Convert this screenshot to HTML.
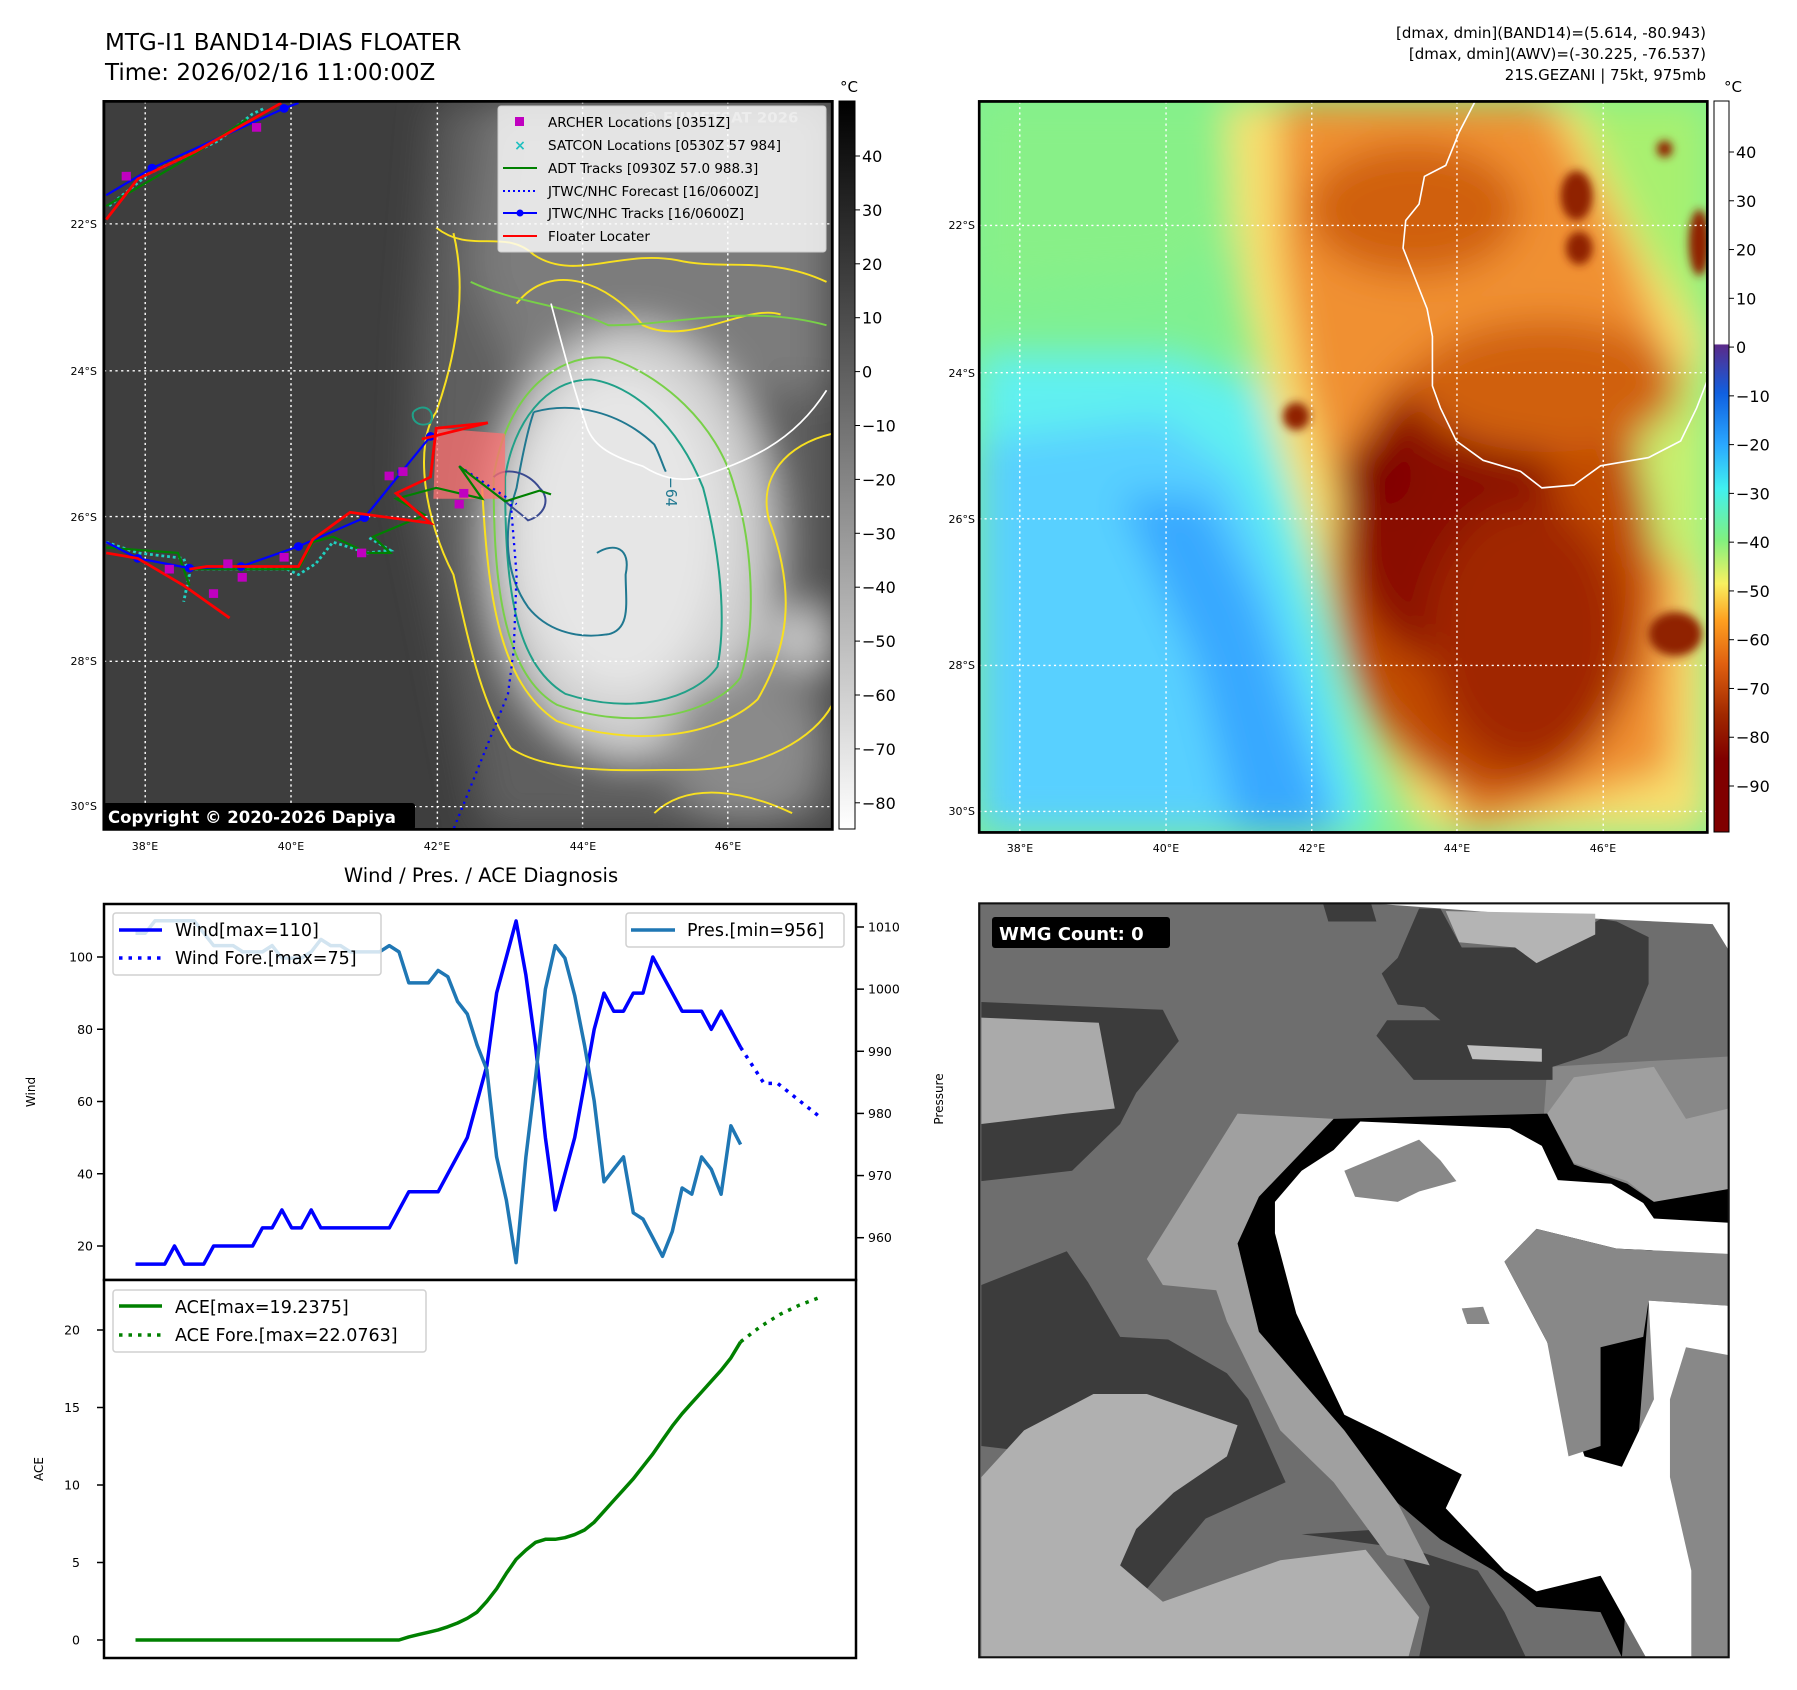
<!DOCTYPE html>
<html><head><meta charset="utf-8"><style>
html,body{margin:0;padding:0;background:#fff;}
svg{display:block;font-family:"DejaVu Sans","Liberation Sans",sans-serif;}
</style></head><body>
<svg id="root" width="1797" height="1690" viewBox="0 0 1797 1690" xmlns="http://www.w3.org/2000/svg">
<defs>
<filter id="b20" x="-20%" y="-20%" width="140%" height="140%"><feGaussianBlur stdDeviation="20"/></filter>
<filter id="b8" x="-20%" y="-20%" width="140%" height="140%"><feGaussianBlur stdDeviation="8"/></filter>
<filter id="b35" x="-30%" y="-30%" width="160%" height="160%"><feGaussianBlur stdDeviation="35"/></filter>
<linearGradient id="cb1" x1="0" y1="0" x2="0" y2="1"><stop offset="0" stop-color="#000"/><stop offset="1" stop-color="#fff"/></linearGradient>
<linearGradient id="cb2" x1="0" y1="0" x2="0" y2="1">
<stop offset="0" stop-color="#fff"/><stop offset="0.332" stop-color="#fff"/><stop offset="0.334" stop-color="#5a2a8a"/>
<stop offset="0.40" stop-color="#1060e0"/><stop offset="0.47" stop-color="#2aa8ff"/><stop offset="0.53" stop-color="#40f0f0"/>
<stop offset="0.60" stop-color="#80f080"/><stop offset="0.66" stop-color="#f8f060"/><stop offset="0.71" stop-color="#ffa020"/>
<stop offset="0.77" stop-color="#e06010"/><stop offset="0.84" stop-color="#a02800"/><stop offset="0.90" stop-color="#800000"/><stop offset="1" stop-color="#800000"/></linearGradient>
<clipPath id="c1"><rect x="181" y="187" width="1269" height="1343"/></clipPath>
<clipPath id="c2"><rect x="36" y="184" width="1364" height="1326"/></clipPath>
<clipPath id="c4"><rect x="36" y="45" width="1404" height="1452"/></clipPath>
</defs>

<text x="105" y="50" font-size="23">MTG-I1 BAND14-DIAS FLOATER</text>
<text x="105" y="80" font-size="23">Time: 2026/02/16 11:00:00Z</text>
<g font-size="15" text-anchor="end">
<text x="1706" y="38">[dmax, dmin](BAND14)=(5.614, -80.943)</text>
<text x="1706" y="59">[dmax, dmin](AWV)=(-30.225, -76.537)</text>
<text x="1706" y="80">21S.GEZANI | 75kt, 975mb</text>
</g>

<svg x="0" y="0" width="900" height="850" viewBox="0 0 1568 1568" preserveAspectRatio="none">
<g clip-path="url(#c1)">
<rect x="181" y="187" width="1269" height="1343" fill="#3e3e3e"/>
<g filter="url(#b35)">
<path d="M760,187 L1450,187 L1450,1530 L840,1530 L780,1200 L720,900 L730,600 Z" fill="#5e5e5e"/>
<path d="M860,187 L1450,187 L1450,720 L920,740 L820,500 Z" fill="#7c7c7c"/>
<ellipse cx="1100" cy="1000" rx="250" ry="400" fill="#cfcfcf"/>
<ellipse cx="1080" cy="980" rx="180" ry="300" fill="#e6e6e6"/>
<ellipse cx="1300" cy="1380" rx="140" ry="140" fill="#8a8a8a"/>
<ellipse cx="1400" cy="1180" rx="60" ry="60" fill="#c8c8c8"/>
</g>
<g fill="none" stroke-width="3.5" stroke-linejoin="round">
<path d="M790,430 C820,560 780,700 760,760 C720,820 740,960 790,1060 C820,1200 840,1300 890,1380 C960,1430 1100,1420 1200,1420 C1330,1420 1420,1360 1450,1300" stroke="#f8e020"/>
<path d="M840,900 C850,1100 870,1260 970,1330 C1100,1380 1250,1360 1320,1290 C1370,1200 1390,1100 1340,960 C1320,880 1370,820 1450,800" stroke="#f8e020"/>
<path d="M900,560 C960,480 1060,520 1120,600 C1200,640 1300,560 1360,580" stroke="#f8e020"/>
<path d="M760,420 C820,470 880,420 930,470 C1000,520 1080,460 1180,480 C1260,500 1340,470 1440,520" stroke="#f8e020"/>
<path d="M1140,1500 C1200,1440 1300,1460 1380,1500" stroke="#f8e020"/>
<path d="M860,880 C860,1050 870,1240 970,1300 C1100,1350 1240,1320 1290,1250 C1320,1150 1310,1000 1280,900 C1250,780 1150,690 1060,660 C960,650 880,740 860,880 Z" stroke="#78d048"/>
<path d="M820,520 C900,560 980,560 1060,600 C1180,600 1300,560 1440,600" stroke="#78d048"/>
<path d="M880,880 C880,1060 890,1220 985,1280 C1100,1320 1210,1290 1250,1230 C1270,1120 1245,980 1225,900 C1180,780 1100,710 1030,700 C950,700 895,780 880,880 Z" stroke="#20a088"/>
<path d="M930,760 C1000,740 1080,760 1140,820 C1150,840 1155,860 1160,870" stroke="#207890"/>
<path d="M1040,1020 C1070,1000 1100,1010 1090,1060 C1090,1110 1100,1160 1060,1170 C1000,1180 950,1160 920,1120 C880,1060 875,980 900,900 C910,840 920,790 930,760" stroke="#207890"/>
<path d="M860,880 C880,860 920,870 940,900 C960,920 950,950 920,960 C900,940 880,930 870,910" stroke="#3a4a90"/>
<path d="M720,760 C740,740 760,760 750,780 C730,790 715,775 720,760" stroke="#20a088"/>
</g>
<path d="M960,560 C980,640 1000,720 1020,780 C1030,820 1060,840 1120,860 C1150,880 1180,890 1220,880 C1300,850 1380,820 1440,720" fill="none" stroke="#fff" stroke-width="3"/>
<text x="1160" y="880" font-size="26" fill="#207890" transform="rotate(90 1160 880)">−64</text>
<g stroke="#fff" stroke-width="2.5" stroke-dasharray="4,6">
<line x1="253" y1="187" x2="253" y2="1530"/><line x1="507" y1="187" x2="507" y2="1530"/><line x1="762" y1="187" x2="762" y2="1530"/><line x1="1015" y1="187" x2="1015" y2="1530"/><line x1="1268" y1="187" x2="1268" y2="1530"/>
<line x1="181" y1="413" x2="1450" y2="413"/><line x1="181" y1="684" x2="1450" y2="684"/><line x1="181" y1="953" x2="1450" y2="953"/><line x1="181" y1="1220" x2="1450" y2="1220"/><line x1="181" y1="1488" x2="1450" y2="1488"/>
</g>
<polygon points="760,790 880,800 880,920 755,920" fill="#ff7070" opacity="0.75"/>
<g fill="none" stroke="#20d0c0" stroke-width="5" stroke-dasharray="5,5">
<polyline points="185,1000 240,1020 320,1030 330,1060 320,1110"/>
<polyline points="330,1050 500,1050 520,1060 550,1040 580,1000 640,1020 680,1015 640,990"/>
<polyline points="190,380 260,320 380,260 440,210 460,200"/>
</g>
<polyline points="890,930 900,1060 895,1200 885,1280 790,1530" fill="none" stroke="#0000ff" stroke-width="4" stroke-dasharray="4,8"/>
<polyline points="800,860 900,930" fill="none" stroke="#0000ff" stroke-width="4" stroke-dasharray="4,8"/>
<g fill="none" stroke="#008000" stroke-width="4">
<polyline points="185,1010 310,1020 330,1080"/>
<polyline points="330,1050 520,1050 545,1000 580,990 600,1000 640,1020 680,1020 650,990 740,950 690,920 760,900 840,920 800,860 880,925 940,905 960,912"/>
<polyline points="185,380 250,340 330,290 430,220"/>
</g>
<g fill="none" stroke="#0000ff" stroke-width="4">
<polyline points="185,1000 240,1030 330,1048 420,1045 520,1008 635,955 700,870 750,805"/>
<polyline points="185,360 265,310 495,200 520,190"/>
</g>
<g fill="#0000ff">
<circle cx="240" cy="1030" r="8"/><circle cx="330" cy="1048" r="8"/><circle cx="420" cy="1045" r="8"/><circle cx="520" cy="1008" r="8"/><circle cx="635" cy="955" r="8"/><circle cx="700" cy="870" r="8"/><circle cx="750" cy="805" r="8"/><circle cx="265" cy="310" r="8"/><circle cx="495" cy="200" r="8"/>
</g>
<g fill="none" stroke="#ff0000" stroke-width="5">
<polyline points="185,1020 240,1030 320,1080 400,1140"/>
<polyline points="330,1050 360,1045 520,1045 545,995 610,945 750,965 690,910 750,880 760,790 850,780 735,810"/>
<polyline points="185,405 240,330 340,280 490,190"/>
</g>
<g fill="#c000c0">
<rect x="212" y="317" width="16" height="16"/><rect x="439" y="227" width="16" height="16"/><rect x="287" y="1042" width="16" height="16"/><rect x="389" y="1032" width="16" height="16"/><rect x="414" y="1057" width="16" height="16"/><rect x="364" y="1087" width="16" height="16"/><rect x="487" y="1020" width="16" height="16"/><rect x="622" y="1012" width="16" height="16"/><rect x="670" y="870" width="16" height="16"/><rect x="694" y="862" width="16" height="16"/><rect x="792" y="922" width="16" height="16"/><rect x="800" y="902" width="16" height="16"/>
</g>
<text x="1120" y="226" font-size="26" font-weight="bold" fill="#c8c8c8" opacity="0.6">© EUMETSAT 2026</text>
</g>
<rect x="181" y="187" width="1269" height="1343" fill="none" stroke="#000" stroke-width="5"/>
</svg>
<g>
<rect x="498" y="106" width="328" height="146" rx="3" fill="#fff" fill-opacity="0.8" stroke="#ccc"/>
<g font-size="13.5">
<rect x="515" y="117" width="9" height="9" fill="#c000c0"/><text x="548" y="127">ARCHER Locations [0351Z]</text>
<text x="520" y="150" text-anchor="middle" fill="#20c0c0" font-weight="bold" font-size="14">×</text><text x="548" y="150">SATCON Locations [0530Z 57 984]</text>
<line x1="503" y1="168" x2="537" y2="168" stroke="#008000" stroke-width="2"/><text x="548" y="173">ADT Tracks [0930Z 57.0 988.3]</text>
<line x1="503" y1="191" x2="537" y2="191" stroke="#0000ff" stroke-width="2" stroke-dasharray="2,3"/><text x="548" y="196">JTWC/NHC Forecast [16/0600Z]</text>
<line x1="503" y1="213" x2="537" y2="213" stroke="#0000ff" stroke-width="2"/><circle cx="520" cy="213" r="3.5" fill="#0000ff"/><text x="548" y="218">JTWC/NHC Tracks [16/0600Z]</text>
<line x1="503" y1="236" x2="537" y2="236" stroke="#ff0000" stroke-width="2"/><text x="548" y="241">Floater Locater</text>
</g></g>
<g>
<rect x="103" y="803" width="312" height="27" rx="3" fill="#000"/>
<text x="108" y="823" font-size="16.5" font-weight="bold" fill="#fff">Copyright © 2020-2026 Dapiya</text>
</g>
<g font-size="11" text-anchor="end">
<text x="97" y="228">22°S</text><text x="97" y="375">24°S</text><text x="97" y="521">26°S</text><text x="97" y="665">28°S</text><text x="97" y="810">30°S</text>
</g>
<g font-size="11" text-anchor="middle">
<text x="145" y="850">38°E</text><text x="291" y="850">40°E</text><text x="437" y="850">42°E</text><text x="583" y="850">44°E</text><text x="728" y="850">46°E</text>
</g>
<rect x="839" y="101" width="16" height="728" fill="url(#cb1)" stroke="#000" stroke-width="1"/>
<text x="849" y="92" font-size="15" text-anchor="middle">°C</text>
<g id="cb1ticks" font-size="16"></g>

<svg x="960" y="0" width="837" height="860" viewBox="0 0 1568 1560" preserveAspectRatio="none">
<g clip-path="url(#c2)">
<rect x="36" y="184" width="1364" height="1326" fill="#80f090"/>
<g filter="url(#b35)">
<path d="M36,640 L400,640 L560,700 L620,900 L700,1200 L780,1510 L36,1510 Z" fill="#60f0f0"/>
<path d="M36,800 L380,760 L520,860 L600,1050 L680,1300 L730,1510 L36,1510 Z" fill="#58d0ff"/>
<path d="M300,900 L460,900 L560,1100 L640,1350 L700,1510 L520,1510 L440,1200 Z" fill="#38a8ff"/>
<path d="M36,184 L500,184 L520,420 L400,500 L36,520 Z" fill="#88f088"/>
<path d="M500,184 L1150,184 L1300,400 L1400,560 L1400,1510 L860,1510 L740,1250 L660,1000 L580,760 L520,500 Z" fill="#f8e070"/>
<path d="M600,184 L1100,184 L1250,450 L1350,700 L1330,1400 L950,1510 L800,1200 L720,950 L640,700 L600,450 Z" fill="#f09030"/>
<path d="M1150,184 L1400,184 L1400,620 L1280,450 Z" fill="#a8f070"/>
<path d="M1250,700 L1400,650 L1400,1050 L1300,1000 Z" fill="#c8f070"/>
<ellipse cx="1000" cy="1030" rx="300" ry="420" fill="#c04800"/>
<ellipse cx="920" cy="950" rx="200" ry="250" fill="#8a0a00"/>
<ellipse cx="780" cy="860" rx="70" ry="60" fill="#800000"/>
<ellipse cx="1060" cy="1150" rx="180" ry="240" fill="#a02800"/>
<ellipse cx="1100" cy="700" rx="250" ry="120" fill="#d06010"/>
<ellipse cx="850" cy="380" rx="200" ry="120" fill="#d06010"/>
</g>
<g filter="url(#b8)" fill="#902000">
<ellipse cx="1155" cy="355" rx="30" ry="45"/><ellipse cx="1160" cy="450" rx="25" ry="30"/><ellipse cx="630" cy="755" rx="25" ry="25"/><ellipse cx="1340" cy="1150" rx="50" ry="40"/><ellipse cx="1320" cy="270" rx="15" ry="15"/><ellipse cx="1385" cy="440" rx="20" ry="60"/>
</g>
<path d="M965,184 L935,240 L910,300 L870,320 L860,370 L835,400 L830,450 L875,560 L885,610 L885,700 L900,740 L930,800 L980,835 L1050,855 L1090,885 L1150,880 L1200,845 L1290,830 L1350,800 L1380,740 L1400,690" fill="none" stroke="#fff" stroke-width="3"/>
<g stroke="#fff" stroke-width="2.5" stroke-dasharray="4,6">
<line x1="112" y1="184" x2="112" y2="1510"/><line x1="386" y1="184" x2="386" y2="1510"/><line x1="659" y1="184" x2="659" y2="1510"/><line x1="931" y1="184" x2="931" y2="1510"/><line x1="1205" y1="184" x2="1205" y2="1510"/>
<line x1="36" y1="409" x2="1400" y2="409"/><line x1="36" y1="676" x2="1400" y2="676"/><line x1="36" y1="941" x2="1400" y2="941"/><line x1="36" y1="1207" x2="1400" y2="1207"/><line x1="36" y1="1472" x2="1400" y2="1472"/>
</g>
</g>
<rect x="36" y="184" width="1364" height="1326" fill="none" stroke="#000" stroke-width="5"/>
</svg>
<g font-size="11" text-anchor="end">
<text x="975" y="229">22°S</text><text x="975" y="377">24°S</text><text x="975" y="523">26°S</text><text x="975" y="669">28°S</text><text x="975" y="815">30°S</text>
</g>
<g font-size="11" text-anchor="middle">
<text x="1020" y="852">38°E</text><text x="1166" y="852">40°E</text><text x="1312" y="852">42°E</text><text x="1457" y="852">44°E</text><text x="1603" y="852">46°E</text>
</g>
<rect x="1714" y="101" width="15" height="731" fill="url(#cb2)" stroke="#000" stroke-width="1"/>
<text x="1733" y="92" font-size="15" text-anchor="middle">°C</text>
<g id="cb2ticks" font-size="16"></g>

<svg x="960" y="880" width="837" height="810" viewBox="0 0 1568 1560" preserveAspectRatio="none">
<g clip-path="url(#c4)">
<rect x="36" y="45" width="1404" height="1452" fill="#6e6e6e"/>
<polygon points="770,45 1440,45 1440,135 1410,85 1100,70" fill="#fff"/>
<polygon points="1100,360 1440,340 1440,1497 1300,1497 1100,1000 1030,740 1080,660" fill="#888"/>
<polygon points="1150,380 1300,360 1360,460 1440,440 1440,600 1300,620 1250,580 1150,545 1100,450" fill="#a0a0a0"/>
<polygon points="680,45 770,45 780,80 690,80" fill="#3c3c3c"/>
<polygon points="820,150 860,55 900,55 940,130 1110,130 1200,75 1230,80 1290,110 1290,200 1250,300 1200,330 1110,360 1110,385 850,385 780,300 800,270 900,270 870,245 820,240 790,180" fill="#3c3c3c"/>
<polygon points="910,60 1190,65 1190,105 1080,160 1040,130 935,120" fill="#b4b4b4"/>
<polygon points="950,318 1090,325 1090,350 960,345" fill="#c0c0c0"/>
<polygon points="40,235 380,250 410,310 330,410 300,470 210,560 40,580" fill="#3c3c3c"/>
<polygon points="40,265 260,275 290,440 200,450 40,470" fill="#aaaaaa"/>
<polygon points="40,780 200,715 240,775 300,880 390,885 500,950 540,1000 610,1160 460,1230 330,1390 270,1300 120,1100 40,1090" fill="#3c3c3c"/>
<polygon points="40,1150 120,1060 250,990 350,990 520,1050 500,1110 400,1180 330,1250 300,1320 380,1390 600,1310 760,1290 860,1420 840,1497 40,1497" fill="#b0b0b0"/>
<polygon points="640,1260 800,1250 880,1400 860,1497 1060,1497 1020,1410 970,1330 850,1290" fill="#3c3c3c"/>
<polygon points="350,730 520,450 700,460 560,610 520,700 560,870 720,1060 820,1200 880,1320 800,1300 700,1160 600,1060 500,850 480,790 380,780" fill="#a0a0a0"/>
<polygon points="560,610 700,460 1100,450 1150,548 1250,585 1300,620 1440,595 1440,690 1300,680 1240,1497 1200,1410 1080,1400 1000,1330 900,1270 820,1200 720,1060 560,870 520,700" fill="#000"/>
<polygon points="590,620 640,560 700,520 750,465 1030,478 1090,512 1120,578 1220,585 1280,622 1300,652 1440,660 1440,720 1230,710 1080,672 1020,735 1100,890 1170,1110 1240,1130 1300,1000 1290,810 1440,820 1440,915 1360,900 1330,1000 1330,1150 1370,1330 1370,1497 1285,1497 1200,1340 1080,1370 1020,1330 910,1210 940,1145 790,1065 720,1030 630,835 590,680" fill="#fff"/>
<polygon points="720,560 860,500 900,540 930,580 860,600 820,620 740,610" fill="#888"/>
<polygon points="1020,735 1080,672 1230,710 1430,720 1440,820 1290,810 1280,880 1200,900 1200,1090 1140,1110 1100,890" fill="#888"/>
<polygon points="940,825 980,822 992,855 950,855" fill="#888"/>
</g>
<rect x="36" y="45" width="1404" height="1452" fill="none" stroke="#111" stroke-width="4"/>
</svg>
<g>
<rect x="992" y="917" width="178" height="31" rx="3" fill="#000"/>
<text x="999" y="940" font-size="18" font-weight="bold" fill="#fff">WMG Count: 0</text>
</g>

<text x="481" y="882" font-size="19.5" text-anchor="middle">Wind / Pres. / ACE Diagnosis</text>
<g id="charts"></g>
</svg>

<script>
var windVals = [15,15,15,15,20,15,15,15,20,20,20,20,20,25,25,30,25,25,30,25,25,25,25,25,25,25,25,30,35,35,35,35,40,45,50,60,70,90,100,110,95,75,50,30,40,50,65,80,90,85,85,90,90,100,95,90,85,85,85,80,85,80,75];
var presVals = [1009,1009,1011,1011,1011,1011,1011,1009,1007,1007,1007,1006,1006,1006,1007,1005,1005,1005,1006,1008,1007,1007,1006,1006,1006,1006,1007,1006,1001,1001,1001,1003,1002,998,996,991,987,973,966,956,973,986,1000,1007,1005,999,991,982,969,971,973,964,963,960,957,961,968,967,973,971,967,978,975];
var aceVals = [0,0,0,0,0,0,0,0,0,0,0,0,0,0,0,0,0,0,0,0,0,0,0,0,0,0,0,0,0.2,0.35,0.5,0.65,0.85,1.1,1.4,1.8,2.5,3.3,4.3,5.2,5.8,6.3,6.5,6.5,6.6,6.8,7.1,7.6,8.3,9.0,9.7,10.4,11.2,12.0,12.9,13.8,14.6,15.3,16.0,16.7,17.4,18.2,19.24];
var windForeIdx = [62,64.4,65.8,70];
var windForeVals = [75,65,65,56];
var aceForeIdx = [62,64,66,68,70];
var aceForeVals = [19.24,20.2,21.0,21.6,22.08];
var windTicks = [20,40,60,80,100];
var presTicks = [960,970,980,990,1000,1010];
var aceTicks = [0,5,10,15,20];
var cb1Ticks = [40,30,20,10,0,-10,-20,-30,-40,-50,-60,-70,-80];
var cb2Ticks = [40,30,20,10,0,-10,-20,-30,-40,-50,-60,-70,-80,-90];

var NS = "http://www.w3.org/2000/svg";
function mk(tag, attrs, parent){ var e=document.createElementNS(NS,tag); for(var k in attrs) e.setAttribute(k,attrs[k]); parent.appendChild(e); return e; }

function xS(i){ return 135.5 + 9.76*i; }
function yW(v){ return 1246 - (v-20)*3.6125; }
function yP(p){ return 1237.7 - (p-960)*6.214; }
function yA(a){ return 1640 - a*15.5; }
function yCb1(v){ return 156 + (40-v)*5.39; }
function yCb2(v){ return 152 + (40-v)*4.877; }

var g1 = document.getElementById('cb1ticks');
cb1Ticks.forEach(function(v){
  var y=yCb1(v);
  var t=mk('line',{x1:855,y1:y,x2:860,y2:y,stroke:'#000'},g1);
  
  
  var l=mk('text',{x:862,y:y+6},g1); l.textContent=(v<0?'\u2212'+(-v):v);
  
  
});
var g2 = document.getElementById('cb2ticks');
cb2Ticks.forEach(function(v){
  var y=yCb2(v);
  var t=mk('line',{x1:1729,y1:y,x2:1734,y2:y,stroke:'#000'},g2);
  
  
  var l=mk('text',{x:1736,y:y+6},g2); l.textContent=(v<0?'\u2212'+(-v):v);
  
  
});

var C = document.getElementById('charts');
function pts(idx, vals, yf){ return vals.map(function(v,k){ return xS(idx?idx[k]:k).toFixed(1)+','+yf(v).toFixed(1); }).join(' '); }

var f1=mk('rect',{x:104,y:904,width:752,height:376,fill:'#fff',stroke:'#000','stroke-width':2.5},C);


var f2=mk('rect',{x:104,y:1280,width:752,height:378,fill:'#fff',stroke:'#000','stroke-width':2.5},C);



windTicks.forEach(function(v){
  var y=yW(v);
  var t=mk('line',{x1:97,y1:y,x2:104,y2:y,stroke:'#000','stroke-width':1.5},C);
  
  
  var l=mk('text',{x:93,y:y+4.5,'font-size':12.5,'text-anchor':'end'},C); l.textContent=v;
  
  
});
presTicks.forEach(function(v){
  var y=yP(v);
  var t=mk('line',{x1:856,y1:y,x2:864,y2:y,stroke:'#000','stroke-width':1.5},C);
  
  
  var l=mk('text',{x:868,y:y+4.5,'font-size':12.5},C); l.textContent=v;
  
  
});
aceTicks.forEach(function(v){
  var y=yA(v);
  var t=mk('line',{x1:97,y1:y,x2:104,y2:y,stroke:'#000','stroke-width':1.5},C);
  
  
  var l=mk('text',{x:80,y:y+4.5,'font-size':12.5,'text-anchor':'end'},C); l.textContent=v;
  
  
});
var yl1=mk('text',{x:0,y:0,'font-size':12,'text-anchor':'middle',transform:'translate(35,1092) rotate(-90)'},C); yl1.textContent='Wind';


var yl2=mk('text',{x:0,y:0,'font-size':12,'text-anchor':'middle',transform:'translate(943,1099) rotate(-90)'},C); yl2.textContent='Pressure';


var yl3=mk('text',{x:0,y:0,'font-size':12,'text-anchor':'middle',transform:'translate(43,1469) rotate(-90)'},C); yl3.textContent='ACE';



var wl=mk('polyline',{points:pts(null,windVals,yW),fill:'none',stroke:'#0000ff','stroke-width':3.5,'stroke-linejoin':'round'},C);


var wf=mk('polyline',{points:pts(windForeIdx,windForeVals,yW),fill:'none',stroke:'#0000ff','stroke-width':3.5,'stroke-dasharray':'3.5,6'},C);


var pl=mk('polyline',{points:pts(null,presVals,yP),fill:'none',stroke:'#1f77b4','stroke-width':3.5,'stroke-linejoin':'round'},C);


var al=mk('polyline',{points:pts(null,aceVals,yA),fill:'none',stroke:'#008000','stroke-width':3.5,'stroke-linejoin':'round'},C);


var af=mk('polyline',{points:pts(aceForeIdx,aceForeVals,yA),fill:'none',stroke:'#008000','stroke-width':3.5,'stroke-dasharray':'3.5,6'},C);



var lg1=mk('g',{},C);


mk('rect',{x:113,y:913,width:268,height:62,rx:3,fill:'#fff','fill-opacity':0.8,stroke:'#d0d0d0','stroke-width':1.5},lg1);
mk('line',{x1:119,y1:930,x2:162,y2:930,stroke:'#0000ff','stroke-width':3.5},lg1);
mk('line',{x1:119,y1:958,x2:162,y2:958,stroke:'#0000ff','stroke-width':3.5,'stroke-dasharray':'3.5,6'},lg1);
var t1=mk('text',{x:175,y:936,'font-size':17.5},lg1); t1.textContent='Wind[max=110]';
var t2=mk('text',{x:175,y:964,'font-size':17.5},lg1); t2.textContent='Wind Fore.[max=75]';
var lg2=mk('g',{},C);


mk('rect',{x:626,y:913,width:218,height:34,rx:3,fill:'#fff','fill-opacity':0.8,stroke:'#d0d0d0','stroke-width':1.5},lg2);
mk('line',{x1:631,y1:930,x2:675,y2:930,stroke:'#1f77b4','stroke-width':3.5},lg2);
var t3=mk('text',{x:687,y:936,'font-size':17.5},lg2); t3.textContent='Pres.[min=956]';
var lg3=mk('g',{},C);


mk('rect',{x:113,y:1290,width:313,height:62,rx:3,fill:'#fff','fill-opacity':0.8,stroke:'#d0d0d0','stroke-width':1.5},lg3);
mk('line',{x1:119,y1:1306,x2:162,y2:1306,stroke:'#008000','stroke-width':3.5},lg3);
mk('line',{x1:119,y1:1335,x2:162,y2:1335,stroke:'#008000','stroke-width':3.5,'stroke-dasharray':'3.5,6'},lg3);
var t4=mk('text',{x:175,y:1313,'font-size':17.5},lg3); t4.textContent='ACE[max=19.2375]';
var t5=mk('text',{x:175,y:1341,'font-size':17.5},lg3); t5.textContent='ACE Fore.[max=22.0763]';
</script>
</body></html>
